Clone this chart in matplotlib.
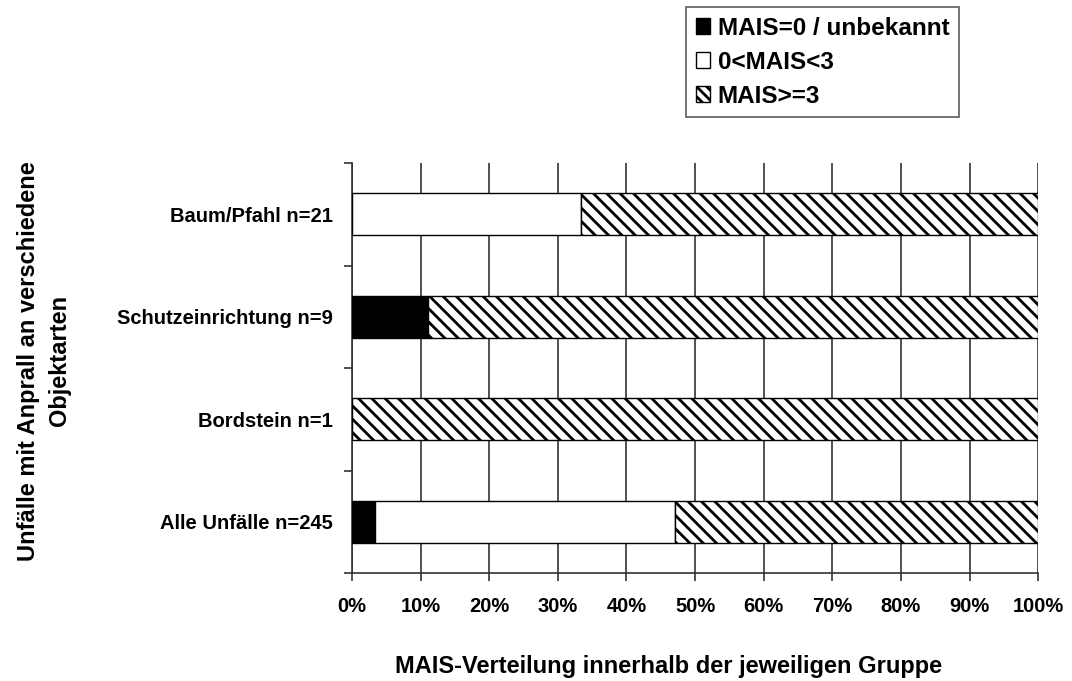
import matplotlib.pyplot as plt
from matplotlib.patches import Patch

DPI = 120
def pt(v):
    # sizes tuned for 100 dpi, rescaled for the 120 dpi canvas
    return v * 100 / DPI

plt.rcParams['font.family'] = ['Liberation Sans', 'DejaVu Sans']
plt.rcParams['font.weight'] = 'bold'
plt.rcParams['hatch.linewidth'] = pt(2.0)

categories = ["Alle Unfälle n=245", "Bordstein n=1", "Schutzeinrichtung n=9", "Baum/Pfahl n=21"]
mais0 = [3.3, 0.0, 11.1, 0.0]
mais_low = [43.7, 0.0, 0.0, 33.3]
mais_high = [53.0, 100.0, 88.9, 66.7]
series_names = ["MAIS=0 / unbekannt", "0<MAIS<3", "MAIS>=3"]
xticks = [0, 10, 20, 30, 40, 50, 60, 70, 80, 90, 100]

fig = plt.figure(figsize=(1072 / DPI, 681 / DPI), dpi=DPI)
ax = fig.add_axes([0.3284, 0.1586, 0.64, 0.602])

y = list(range(len(categories)))
h = 0.41
ax.barh(y, mais0, height=h, color='black', edgecolor='black', lw=pt(1), zorder=3)
ax.barh(y, mais_low, left=mais0, height=h, color='white', edgecolor='black', lw=pt(1), zorder=3)
left2 = [a + b for a, b in zip(mais0, mais_low)]
ax.barh(y, mais_high, left=left2, height=h, color='white', edgecolor='black', hatch='\\\\\\', lw=pt(1), zorder=3)

ax.set_xlim(0, 100)
ax.set_ylim(-0.5, 3.5)
ax.set_xticks(xticks)
ax.set_xticklabels([f"{v}%" for v in xticks], fontsize=pt(14.5), fontweight='bold')
ax.set_yticks(y)
ax.set_yticklabels(categories, fontsize=pt(14.5), fontweight='bold')
ax.tick_params(axis='y', length=0, pad=pt(14))
ax.set_yticks([-0.5, 0.5, 1.5, 2.5, 3.5], minor=True)
ax.tick_params(axis='y', which='minor', length=pt(6), width=pt(1.2), color='#333333')
ax.tick_params(axis='x', length=pt(6), width=pt(1.2), color='#333333', pad=pt(11), direction='out')
ax.grid(axis='x', color='#333333', lw=pt(1.2), zorder=0)
ax.set_axisbelow(True)
for s in ['top', 'right']:
    ax.spines[s].set_visible(False)
for s in ['left', 'bottom']:
    ax.spines[s].set_color('#333333')
    ax.spines[s].set_linewidth(pt(1.2))

fig.text(669 / 1072, 1 - 666 / 681, "MAIS-Verteilung innerhalb der jeweiligen Gruppe",
         ha='center', va='center', fontsize=pt(17), fontweight='bold')
fig.text(0.041, 0.47, "Unfälle mit Anprall an verschiedene\nObjektarten", rotation=90,
         ha='center', va='center', fontsize=pt(17), fontweight='bold', multialignment='center',
         linespacing=1.4)

handles = [Patch(facecolor='black', edgecolor='black', lw=pt(1)),
           Patch(facecolor='white', edgecolor='black', lw=pt(1)),
           Patch(facecolor='white', edgecolor='black', lw=pt(1), hatch='\\\\\\\\')]
leg = fig.legend(handles, series_names, loc='upper left', bbox_to_anchor=(686 / 1072, 1 - 7 / 681),
                 frameon=True, fancybox=False, handlelength=0.6, handleheight=0.6,
                 handletextpad=0.3, labelspacing=0.45, borderpad=0.4, borderaxespad=0,
                 prop={'weight': 'bold', 'size': pt(17.5)})
leg.get_frame().set_edgecolor('#333333')
leg.get_frame().set_linewidth(pt(1.2))

fig.savefig("out.png", dpi=DPI)
